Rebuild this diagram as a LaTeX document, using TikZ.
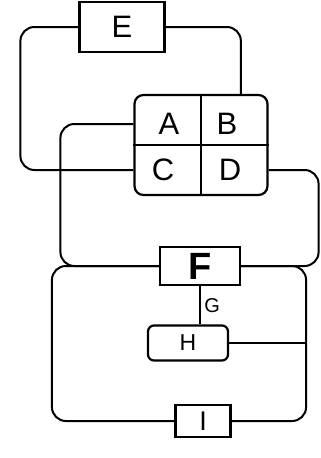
\documentclass[tikz,border=0pt]{standalone}
\usepackage{fontspec}
\setmainfont{Liberation Sans}
\usetikzlibrary{positioning, calc}

\begin{document}
\begin{tikzpicture}[x=1pt, y=-1pt,
    box/.style={draw, line width=2.2pt, inner sep=0pt},
    wire/.style={line width=2pt, rounded corners=14pt},
    lbl/.style={font=\fontsize{31}{33}\selectfont}]
    \useasboundingbox (0,0) rectangle (321,458);

    % Draw the boxes
    \node[box, lbl, minimum width=85pt, minimum height=50pt] (E) at (122,27) {E};
    \node[box, rounded corners=9pt, minimum width=133pt, minimum height=100pt] (abcd) at (201,145) {};
    \node[box, font=\fontsize{38}{40}\selectfont\bfseries, minimum width=80pt, minimum height=38pt] (F) at (200,266) {F};
    \node[box, rounded corners=6pt, font=\fontsize{23}{25}\selectfont, minimum width=80pt, minimum height=35pt] (H) at (188,343) {H};
    \node[box, font=\fontsize{27}{29}\selectfont, minimum width=55pt, minimum height=32pt] (I) at (203,421) {I};

    % Draw the four cells inside the middle box
    \draw[line width=2.2pt] (abcd.north) -- (abcd.south);
    \draw[line width=2.2pt] (abcd.west) -- (abcd.east);
    \node[lbl] (A) at (169,124) {A};
    \node[lbl] (B) at (227,124) {B};
    \node[lbl] (C) at (163,170) {C};
    \node[lbl] (D) at (230,170) {D};

    % Draw wires from E
    \draw[wire] (E.west) -- ++(-58,0) |- (abcd.west |- C);
    \draw[wire] (E.east) -| (abcd.north -| B.east);

    % Draw wires from the middle box to F
    \draw[wire] (abcd.west |- A) -- ++(-73,0) |- (F.west);
    \draw[wire] (abcd.east |- D) -- ++(50,0) |- (F.east);

    % Draw lower loop through H and I
    \coordinate (rj) at ($(F.east)+(65,0)$);
    \draw[wire] (F.west) -- ++(-107,0) |- (I.west);
    \draw[wire] (F.east) -- (rj) |- (I.east);
    \draw[wire] (H.east) -- (H.east -| rj);
    \draw[wire] (F.south) -- node[right, font=\fontsize{20}{22}\selectfont] {G} (F.south |- H.north);

\end{tikzpicture}
\end{document}
